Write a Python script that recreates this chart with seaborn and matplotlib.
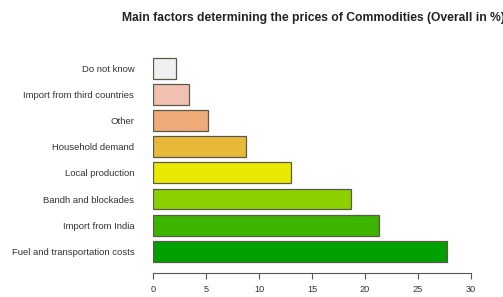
import matplotlib
matplotlib.use("Agg")
import matplotlib.pyplot as plt
import pandas as pd
import seaborn as sns

factors = [
    "Do not know",
    "Import from third countries",
    "Other",
    "Household demand",
    "Local production",
    "Bandh and blockades",
    "Import from India",
    "Fuel and transportation costs",
]
share = [2.2, 3.4, 5.2, 8.8, 13.0, 18.7, 21.3, 27.7]
colors = ["#f0f0f0", "#f2c0b0", "#eeaa78", "#e8b838",
          "#e8e800", "#8cd000", "#3cb400", "#00a000"]
xticks = [0, 5, 10, 15, 20, 25, 30]

df = pd.DataFrame({"factor": factors, "share": share})

sns.set_style("white")
plt.rcParams["font.family"] = ["Liberation Sans", "DejaVu Sans"]

fig = plt.figure(figsize=(5.03, 2.97), dpi=100)
ax = fig.add_axes([153 / 503, 24 / 297, 318 / 503, 223 / 297])

sns.barplot(data=df, y="factor", x="share", hue="factor",
            palette=dict(zip(factors, colors)), legend=False, saturation=1,
            width=0.8, edgecolor="#5a5a4a", linewidth=0.9, ax=ax)

ax.set_xlim(0, 30)
ax.set_ylim(7.83, -0.7)
ax.set_xticks(xticks)
ax.set_xticklabels([str(t) for t in xticks], fontsize=6.6, color="#333333")
ax.tick_params(axis="x", bottom=True, direction="out", length=4, width=0.8,
               color="#555555", pad=5)
ax.tick_params(axis="y", left=False, pad=10, labelsize=6.8, labelcolor="#333333")
ax.set_xlabel("")
ax.set_ylabel("")
for side in ["top", "right", "left"]:
    ax.spines[side].set_visible(False)
ax.spines["bottom"].set_color("#555555")
ax.spines["bottom"].set_linewidth(0.8)

fig.text(313 / 503, 1 - 18 / 297,
         "Main factors determining the prices of Commodities (Overall in %)",
         ha="center", va="center", fontsize=8.7, fontweight="bold", color="#222222")

fig.savefig("out.png", dpi=100)
